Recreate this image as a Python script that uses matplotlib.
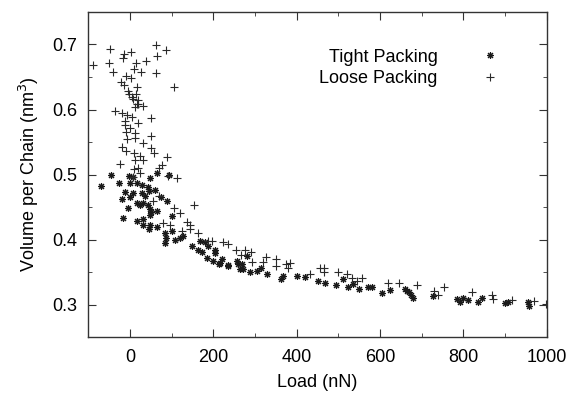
import numpy as np
import matplotlib.pyplot as plt
from matplotlib.ticker import MultipleLocator

plt.rcParams['font.family'] = ['Liberation Sans', 'DejaVu Sans']
plt.rcParams['font.size'] = 13

# Tight packing (asterisks)
tight_load = [-70, -46, -26, -2, 8, 0, 16, 28, 48, 44, 46, 64, 94, -12, -20, 8, 0, 28,
              32, 16, 24, 44, 48, 50, 48, 66, 74, 88, -16, 16, 31, 32, 48, 46, 64, 84,
              100, 86, 84, 108, 120, 128, 148, 164, 184, 168, 180, 100, 188, 204, 200,
              216, 236, 256, 268, 280, 264, 172, 204, 220, 214, 236, 260, 272, 288, 306,
              314, 328, 362, 367, 400, 420, 452, 468, 494, 511, 524, 536, 550, 572, 580,
              604, 624, 660, 664, 670, 674, 679, 727, 784, 792, 800, 810, 836, 844, 900,
              908, 954, 958, 36, 60, -5]
tight_vol = [0.483, 0.500, 0.487, 0.498, 0.496, 0.487, 0.487, 0.484, 0.495, 0.481, 0.475,
             0.503, 0.500, 0.474, 0.462, 0.472, 0.466, 0.472, 0.456, 0.456, 0.454, 0.454,
             0.447, 0.442, 0.438, 0.444, 0.466, 0.459, 0.433, 0.429, 0.432, 0.423, 0.423,
             0.416, 0.419, 0.411, 0.413, 0.403, 0.395, 0.400, 0.403, 0.406, 0.390, 0.385,
             0.372, 0.398, 0.396, 0.436, 0.390, 0.385, 0.367, 0.365, 0.361, 0.367, 0.362,
             0.375, 0.355, 0.381, 0.380, 0.371, 0.362, 0.359, 0.362, 0.355, 0.350, 0.352,
             0.357, 0.348, 0.340, 0.345, 0.345, 0.343, 0.336, 0.333, 0.330, 0.339, 0.327,
             0.332, 0.324, 0.327, 0.327, 0.318, 0.323, 0.325, 0.322, 0.319, 0.315, 0.311,
             0.314, 0.309, 0.305, 0.310, 0.308, 0.305, 0.310, 0.303, 0.304, 0.304, 0.298,
             0.467, 0.477, 0.449]

# Loose packing (plus signs)
loose_load = [-48, 62, 86, -14, 2, 66, -17, -89, -50, 14, 38, 10, -41, 26, 62, -10, 2,
              -22, -14, 16, 106, -5, -2, 14, 4, 8, 19, 20, 12, 32, -36, -20, -8, 4, 50,
              -12, 19, -12, 0, -10, 12, 50, 12, -8, 32, -20, 50, -10, 10, 58, 24, 88, 12,
              32, -24, 76, 10, 20, 70, 112, 92, 24, 8, 154, 164, 144, 136, 120, 106, 70,
              56, 79, 96, 144, 188, 224, 254, 276, 266, 236, 124, 196, 290, 292, 320, 326,
              350, 350, 374, 384, 380, 432, 456, 466, 466, 498, 520, 532, 556, 544, 618,
              646, 688, 730, 740, 754, 820, 868, 872, 916, 970, 998, 16]
loose_vol = [0.693, 0.699, 0.691, 0.686, 0.689, 0.682, 0.679, 0.668, 0.672, 0.672, 0.675,
             0.662, 0.658, 0.658, 0.656, 0.652, 0.648, 0.642, 0.638, 0.634, 0.634, 0.629,
             0.624, 0.624, 0.619, 0.616, 0.614, 0.609, 0.604, 0.605, 0.597, 0.594, 0.591,
             0.589, 0.587, 0.582, 0.579, 0.576, 0.571, 0.566, 0.564, 0.559, 0.556, 0.554,
             0.549, 0.543, 0.541, 0.537, 0.533, 0.533, 0.529, 0.527, 0.522, 0.522, 0.517,
             0.515, 0.509, 0.510, 0.510, 0.495, 0.498, 0.502, 0.496, 0.454, 0.411, 0.422,
             0.428, 0.441, 0.449, 0.467, 0.459, 0.425, 0.423, 0.416, 0.398, 0.396, 0.385,
             0.385, 0.377, 0.393, 0.413, 0.398, 0.381, 0.366, 0.366, 0.374, 0.370, 0.360,
             0.363, 0.364, 0.356, 0.347, 0.357, 0.357, 0.350, 0.350, 0.347, 0.341, 0.341,
             0.337, 0.334, 0.333, 0.330, 0.321, 0.315, 0.327, 0.320, 0.315, 0.309, 0.308,
             0.306, 0.301, 0.608]

fig = plt.figure(figsize=(5.69, 3.96), dpi=100)
ax = fig.add_axes([0.155, 0.148, 0.806, 0.822])

ax.plot(tight_load, tight_vol, linestyle='none', marker=(8, 2, 0), markersize=5,
        markeredgewidth=0.8, color='#1a1a1a', label='Tight Packing')
ax.plot(loose_load, loose_vol, linestyle='none', marker='+', markersize=5.5,
        markeredgewidth=0.8, color='#2a2a2a', label='Loose Packing')

ax.set_xlim(-100, 1000)
ax.set_ylim(0.25, 0.75)
ax.xaxis.set_major_locator(MultipleLocator(200))
ax.xaxis.set_minor_locator(MultipleLocator(100))
ax.yaxis.set_major_locator(MultipleLocator(0.1))
ax.yaxis.set_minor_locator(MultipleLocator(0.05))
ax.set_yticks([0.3, 0.4, 0.5, 0.6, 0.7])
ax.set_yticklabels(['0.3', '0.4', '0.5', '0.6', '0.7'])
ax.tick_params(which='both', direction='in', top=True, right=True, color='#333333')
ax.tick_params(which='major', length=6, labelsize=13, pad=8)
ax.tick_params(which='minor', length=3)
for s in ax.spines.values():
    s.set_color('#333333')
    s.set_linewidth(1.0)

ax.set_xlabel('Load (nN)', fontsize=13, labelpad=6)
ax.set_ylabel('Volume per Chain (nm$^3$)', fontsize=13, labelpad=8)

ax.legend(loc='upper right', bbox_to_anchor=(0.915, 0.915), frameon=False, markerfirst=False,
          handlelength=1.0, handletextpad=2.4, labelspacing=0.25, borderpad=0, fontsize=13)

fig.savefig('out.png', dpi=100)
